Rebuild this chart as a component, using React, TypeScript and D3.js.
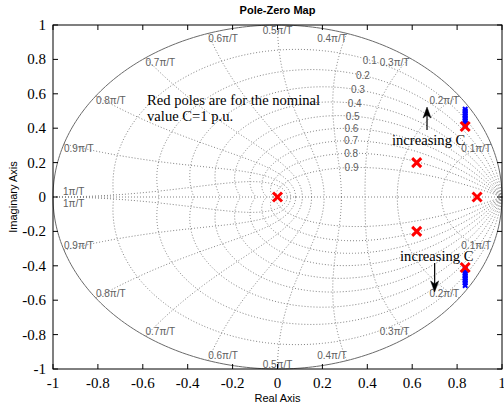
import React from "react";
import * as d3 from "d3";

// Pole locations (real, imaginary) for the nominal value C = 1 p.u.
const poleRe = [0, 0.889, 0.62, 0.62, 0.836, 0.836];
const poleIm = [0, 0, 0.2, -0.2, 0.41, -0.41];

// Pole locations traced while C increases (upper and lower branch)
const traceRe = [0.836, 0.836, 0.836, 0.836, 0.836, 0.836, 0.836, 0.836, 0.836, 0.836, 0.836, 0.836, 0.836, 0.836, 0.836, 0.836, 0.836, 0.836, 0.836, 0.836];
const traceIm = [0.42, 0.43, 0.44, 0.45, 0.46, 0.47, 0.48, 0.49, 0.50, 0.51, -0.42, -0.43, -0.44, -0.45, -0.46, -0.47, -0.48, -0.49, -0.50, -0.515];

// Grid definitions
const zetaValues = [0.1, 0.2, 0.3, 0.4, 0.5, 0.6, 0.7, 0.8, 0.9];
const wnSteps = [1, 2, 3, 4, 5, 6, 7, 8, 9, 10];
const wnLabels = ["0.1π/T", "0.2π/T", "0.3π/T", "0.4π/T", "0.5π/T", "0.6π/T", "0.7π/T", "0.8π/T", "0.9π/T", "1π/T"];
const xTicks = [-1, -0.8, -0.6, -0.4, -0.2, 0, 0.2, 0.4, 0.6, 0.8, 1];
const yTicks = [-1, -0.8, -0.6, -0.4, -0.2, 0, 0.2, 0.4, 0.6, 0.8, 1];

const W = 504;
const H = 407;
const x = d3.scaleLinear().domain([-1, 1]).range([53, 502]);
const y = d3.scaleLinear().domain([-1, 1]).range([369, 25]);

const line = d3
  .line<[number, number]>()
  .x((d) => x(d[0]))
  .y((d) => y(d[1]));

// z = exp(s), s = wn * (-zeta + j*sqrt(1 - zeta^2))
function zOf(wn: number, zeta: number): [number, number] {
  const mag = Math.exp(-zeta * wn);
  const ang = wn * Math.sqrt(1 - zeta * zeta);
  return [mag * Math.cos(ang), mag * Math.sin(ang)];
}

function zetaCurve(zeta: number, sign: number): [number, number][] {
  const wMax = Math.PI / Math.sqrt(1 - zeta * zeta);
  return d3.range(0, 301).map((i) => {
    const p = zOf((wMax * i) / 300, zeta);
    return [p[0], sign * p[1]];
  });
}

function wnCurve(wn: number, sign: number): [number, number][] {
  return d3.range(0, 201).map((i) => {
    const p = zOf(wn, i / 200);
    return [p[0], sign * p[1]];
  });
}

const gridColor = "#808080";
const labelColor = "#606060";
const sans = "'Liberation Sans', Arial, sans-serif";
const serif = "'Liberation Serif', 'Times New Roman', serif";

function Cross({ cx, cy, r, color, sw }: { cx: number; cy: number; r: number; color: string; sw: number }) {
  return (
    <path
      d={`M${cx - r},${cy - r}L${cx + r},${cy + r}M${cx - r},${cy + r}L${cx + r},${cy - r}`}
      stroke={color}
      strokeWidth={sw}
      fill="none"
    />
  );
}

function Arrow({ x0, y0, x1, y1 }: { x0: number; y0: number; x1: number; y1: number }) {
  const px0 = x(x0), py0 = y(y0), px1 = x(x1), py1 = y(y1);
  const dir = py1 < py0 ? -1 : 1;
  const len = 11, half = 4, back = 3;
  const head = `M${px1},${py1}L${px1 - half},${py1 - dir * len}L${px1},${py1 - dir * (len - back)}L${px1 + half},${py1 - dir * len}Z`;
  return (
    <g>
      <line x1={px0} y1={py0} x2={px1} y2={py1 - dir * (len - back)} stroke="#000" strokeWidth={1.2} />
      <path d={head} fill="#000" stroke="#000" strokeWidth={0.5} />
    </g>
  );
}

export default function App() {
  const labelWn = 0.35 * Math.PI;
  return (
    <svg
      width={W}
      height={H}
      style={{ position: "absolute", left: 0, top: 0, background: "#fff" }}
    >
      <rect x={0} y={0} width={W} height={H} fill="#fff" />

      {/* damping-ratio lines */}
      {zetaValues.map((z) =>
        [1, -1].map((s) => (
          <path
            key={`z${z}${s}`}
            d={line(zetaCurve(z, s)) || ""}
            fill="none"
            stroke={gridColor}
            strokeWidth={1}
            strokeDasharray="1,2"
          />
        ))
      )}
      {/* natural-frequency lines */}
      {wnSteps.map((k) =>
        [1, -1].map((s) => (
          <path
            key={`w${k}${s}`}
            d={line(wnCurve((k * Math.PI) / 10, s)) || ""}
            fill="none"
            stroke={gridColor}
            strokeWidth={1}
            strokeDasharray="1,2"
          />
        ))
      )}
      {/* real axis */}
      <line x1={x(-1)} y1={y(0)} x2={x(1)} y2={y(0)} stroke={gridColor} strokeDasharray="1,2" />
      {/* unit circle */}
      <path
        d={line(d3.range(0, 361).map((i) => [Math.cos((i * Math.PI) / 180), Math.sin((i * Math.PI) / 180)] as [number, number])) || ""}
        fill="none"
        stroke="#6a6a6a"
        strokeWidth={1}
      />

      {/* damping labels */}
      {zetaValues.map((z) => {
        const p = zOf(labelWn, z);
        return (
          <text
            key={`zl${z}`}
            x={x(p[0])}
            y={y(p[1])}
            textAnchor="middle"
            dominantBaseline="central"
            fontFamily={sans}
            fontSize={10}
            fill={labelColor}
          >
            {String(z)}
          </text>
        );
      })}

      {/* natural-frequency labels */}
      {wnSteps.map((k, i) =>
        [1, -1].map((s) => {
          const a = (k * Math.PI) / 10;
          const px = x(Math.cos(a));
          const py = y(s * Math.sin(a));
          let anchor: "start" | "middle" | "end" = k < 5 ? "end" : k === 5 ? "middle" : "start";
          let tx = px;
          let ty = s > 0 ? py + 5 : py - 5;
          if (k === 10) {
            tx = px + 10;
            ty = s > 0 ? py - 6 : py + 6;
          }
          return (
            <text
              key={`wl${k}${s}`}
              x={tx}
              y={ty}
              textAnchor={anchor}
              dominantBaseline="central"
              fontFamily={sans}
              fontSize={10}
              fill={labelColor}
            >
              {wnLabels[i]}
            </text>
          );
        })
      )}

      {/* poles while C varies */}
      {traceRe.map((re, i) => (
        <Cross key={`t${i}`} cx={x(re)} cy={y(traceIm[i])} r={2.2} color="#0000ff" sw={2} />
      ))}
      {/* nominal poles */}
      {poleRe.map((re, i) => (
        <Cross key={`p${i}`} cx={x(re)} cy={y(poleIm[i])} r={4.5} color="#ff0000" sw={3} />
      ))}

      {/* annotations */}
      <text x={x(-0.581)} y={y(0.564)} dominantBaseline="central" fontFamily={serif} fontSize={14.6} fill="#000">
        Red poles are for the nominal
      </text>
      <text x={x(-0.581)} y={y(0.471)} dominantBaseline="central" fontFamily={serif} fontSize={14.6} fill="#000">
        value C=1 p.u.
      </text>
      <text x={x(0.51)} y={y(0.331)} dominantBaseline="central" fontFamily={serif} fontSize={14.6} fill="#000">
        increasing C
      </text>
      <text x={x(0.546)} y={y(-0.343)} dominantBaseline="central" fontFamily={serif} fontSize={14.6} fill="#000">
        increasing C
      </text>
      <Arrow x0={0.666} y0={0.39} x1={0.666} y1={0.523} />
      <Arrow x0={0.70} y0={-0.384} x1={0.70} y1={-0.552} />

      {/* axes box and ticks */}
      <rect x={x(-1)} y={y(1)} width={x(1) - x(-1)} height={y(-1) - y(1)} fill="none" stroke="#000" strokeWidth={1} />
      {xTicks.map((t) => (
        <g key={`xt${t}`}>
          <line x1={x(t)} x2={x(t)} y1={y(-1)} y2={y(-1) - 5} stroke="#000" />
          <line x1={x(t)} x2={x(t)} y1={y(1)} y2={y(1) + 5} stroke="#000" />
          <text x={x(t)} y={y(-1) + 14} textAnchor="middle" dominantBaseline="central" fontFamily={serif} fontSize={15} fill="#000">
            {String(t)}
          </text>
        </g>
      ))}
      {yTicks.map((t) => (
        <g key={`yt${t}`}>
          <line x1={x(-1)} x2={x(-1) + 5} y1={y(t)} y2={y(t)} stroke="#000" />
          <line x1={x(1)} x2={x(1) - 5} y1={y(t)} y2={y(t)} stroke="#000" />
          <text x={x(-1) - 7} y={y(t)} textAnchor="end" dominantBaseline="central" fontFamily={serif} fontSize={15} fill="#000">
            {String(t)}
          </text>
        </g>
      ))}

      {/* titles */}
      <text x={x(0)} y={10} textAnchor="middle" dominantBaseline="central" fontFamily={sans} fontSize={11} fontWeight="bold" fill="#000">
        Pole-Zero Map
      </text>
      <text x={x(0)} y={398} textAnchor="middle" dominantBaseline="central" fontFamily={sans} fontSize={11} fill="#000">
        Real Axis
      </text>
      <text
        transform={`translate(13,${y(0)}) rotate(-90)`}
        textAnchor="middle"
        dominantBaseline="central"
        fontFamily={sans}
        fontSize={11}
        fill="#000"
      >
        Imaginary Axis
      </text>
    </svg>
  );
}
